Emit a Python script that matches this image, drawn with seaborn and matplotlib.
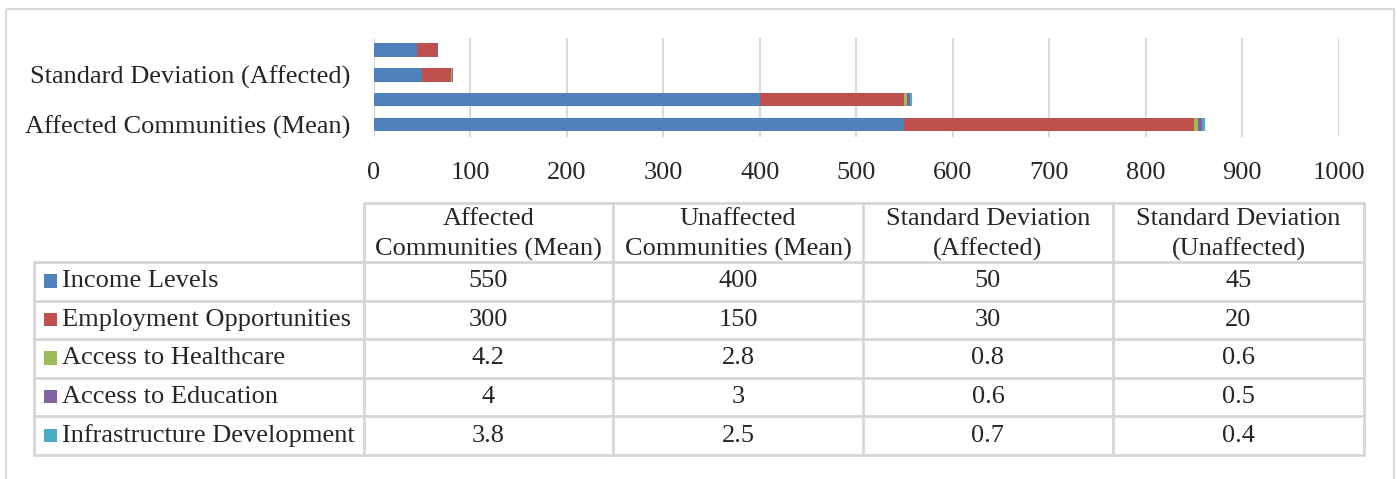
import matplotlib
matplotlib.use("Agg")
import matplotlib.pyplot as plt
from matplotlib.patches import Rectangle
import numpy as np
import pandas as pd
import seaborn as sns

# ---------------- data ----------------
categories = ["Affected Communities (Mean)", "Unaffected Communities (Mean)",
              "Standard Deviation (Affected)", "Standard Deviation (Unaffected)"]
header_labels = ["Affected\nCommunities (Mean)", "Unaffected\nCommunities (Mean)",
                 "Standard Deviation\n(Affected)", "Standard Deviation\n(Unaffected)"]
series_names = ["Income Levels", "Employment Opportunities", "Access to Healthcare",
                "Access to Education", "Infrastructure Development"]
income = [550, 400, 50, 45]
employment = [300, 150, 30, 20]
healthcare = [4.2, 2.8, 0.8, 0.6]
education = [4, 3, 0.6, 0.5]
infrastructure = [3.8, 2.5, 0.7, 0.4]
series_values = [income, employment, healthcare, education, infrastructure]
x_ticks = list(range(0, 1001, 100))

colors = ["#4F81BD", "#C0504D", "#9BBB59", "#8064A2", "#4BACC6"]

# ---------------- style ----------------
sns.set_style("white")
plt.rcParams["font.family"] = ["Liberation Serif", "DejaVu Serif"]
FS = 19
W, H = 1397, 479
fig = plt.figure(figsize=(W / 100, H / 100), dpi=100)

# overlay axes in pixel coordinates for the frame and data table
ov = fig.add_axes([0, 0, 1, 1])
ov.set_xlim(0, W)
ov.set_ylim(H, 0)
ov.set_axis_off()
grid_c = "#D9D9D9"
ov.add_patch(Rectangle((5.5, 9), 1388, 500, fill=False, edgecolor=grid_c, lw=1.5))

# table geometry
col_x = [34, 364, 613, 863, 1113, 1364]
head_top, head_bot = 202.5, 262
row_y = [262, 300.5, 339, 377.5, 416, 455]
tc = "#D6D6D6"
lw = 2.0
ov.plot([col_x[1], col_x[-1]], [head_top, head_top], color=tc, lw=lw)
for y in row_y:
    ov.plot([col_x[0], col_x[-1]], [y, y], color=tc, lw=lw)
ov.plot([col_x[0], col_x[0]], [row_y[0], row_y[-1]], color=tc, lw=lw)
for x in col_x[1:]:
    ov.plot([x, x], [head_top, row_y[-1]], color=tc, lw=lw)

for j, hl in enumerate(header_labels):
    cx = (col_x[j + 1] + col_x[j + 2]) / 2
    ov.text(cx, (head_top + head_bot) / 2 + 2.5, hl, ha="center", va="center",
            fontsize=FS, linespacing=1.45)

for i, name in enumerate(series_names):
    cy = (row_y[i] + row_y[i + 1]) / 2
    ov.add_patch(Rectangle((43.5, cy - 7), 13.5, 13.5, color=colors[i], lw=0))
    ov.text(62, cy, name, ha="left", va="center", fontsize=FS)
    for j in range(len(categories)):
        cx = (col_x[j + 1] + col_x[j + 2]) / 2
        v = series_values[i][j]
        ov.text(cx, cy, f"{v:g}", ha="center", va="center", fontsize=FS)

# bar axes
ax_left, ax_right = 374, 1338.5
ax_top, ax_bot = 37.7, 137
ax = fig.add_axes([ax_left / W, 1 - ax_bot / H, (ax_right - ax_left) / W, (ax_bot - ax_top) / H])
order = categories[::-1]  # top to bottom
df = pd.DataFrame({"category": categories})
cum = np.zeros(len(categories))
cums = []
for vals in series_values:
    cum = cum + np.array(vals, dtype=float)
    cums.append(cum.copy())
for i in reversed(range(len(series_values))):
    d = df.copy()
    d["value"] = cums[i]
    sns.barplot(data=d, x="value", y="category", order=order, orient="h",
                color=colors[i], saturation=1, width=0.54, linewidth=0, ax=ax)

ax.set_xlim(0, 1000)
ax.set_ylim(3.5, -0.5)
ax.set_xticks(x_ticks)
ax.set_xticklabels([str(t) for t in x_ticks], fontsize=FS)
ax.set_yticks(range(len(order)))
ax.set_yticklabels([lab if k % 2 == 1 else "" for k, lab in enumerate(order)], fontsize=FS)
ax.set_xlabel("")
ax.set_ylabel("")
ax.grid(axis="x", color=grid_c, lw=1.5)
ax.set_axisbelow(True)
for s in ax.spines.values():
    s.set_visible(False)
ax.tick_params(axis="both", length=0)
ax.tick_params(axis="x", pad=18)
ax.tick_params(axis="y", pad=17)
ax.patch.set_alpha(0)

fig.savefig("out.png", dpi=100)
